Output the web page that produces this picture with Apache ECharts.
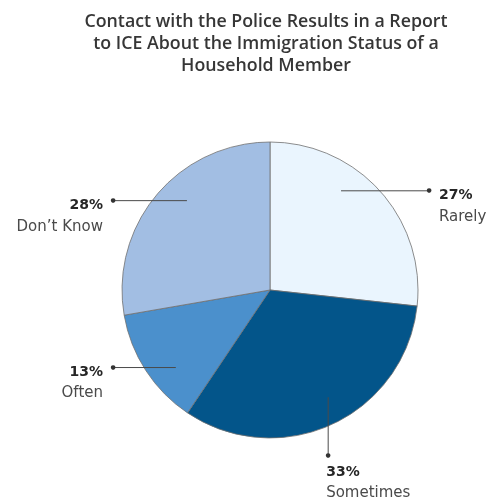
<!DOCTYPE html>
<html>
<head>
<meta charset="utf-8">
<script src="https://cdn.jsdelivr.net/npm/echarts@6/dist/echarts.min.js"></script>
<style>html,body{margin:0;padding:0;background:#fff}#c{width:492px;height:502px}</style>
</head>
<body>
<div id="c"></div>
<script>
const titleLines = ['Contact with the Police Results in a Report', 'to ICE About the Immigration Status of a', 'Household Member'];
const categories = ['Rarely', 'Sometimes', 'Often', "Don\u2019t Know"];
const values = [27, 33, 13, 28];
const colors = ['#EAF5FE', '#03558A', '#4B90CC', '#A2BEE3'];

// label anchor styling: fraction along slice, side of the label
const anchorStyle = [
  {f: 0.37, side: 'right'},
  {f: 0.47, side: 'bottom'},
  {f: 0.36, side: 'left'},
  {f: 0.57, side: 'left'}
];
const CX = 270, CY = 290, R = 148, RIN = 122;
const total = values.reduce((a, b) => a + b, 0);

function geom(i) {
  let cum = 0;
  for (let j = 0; j < i; j++) cum += values[j];
  const s = anchorStyle[i];
  const a = (-90 + (cum + s.f * values[i]) / total * 360) * Math.PI / 180;
  const px = CX + RIN * Math.cos(a);
  const py = CY + RIN * Math.sin(a);
  let dx, dy;
  if (s.side === 'right') { dx = CX + R + 11; dy = py; }
  else if (s.side === 'left') { dx = CX - R - 9; dy = py; }
  else { dx = px; dy = CY + R + 17; }
  return {px, py, dx, dy, side: s.side};
}

const base = {
  type: 'pie',
  center: [CX, CY],
  startAngle: 90,
  clockwise: true,
  avoidLabelOverlap: false,
  silent: true
};

const chart = echarts.init(document.getElementById('c'), null, {renderer: 'canvas'});
chart.setOption({
  backgroundColor: '#ffffff',
  animation: false,
  title: {
    text: titleLines.join('\n'),
    left: 266,
    textAlign: 'center',
    top: 11,
    padding: 0,
    textStyle: {fontFamily: 'Open Sans', fontWeight: 600, fontSize: 17.8, lineHeight: 22, color: '#363636'}
  },
  series: [
    Object.assign({}, base, {
      z: 2,
      radius: R,
      data: categories.map((c, i) => ({name: c, value: values[i], itemStyle: {color: colors[i]}})),
      itemStyle: {borderColor: '#707070', borderWidth: 0.8},
      label: {show: false},
      labelLine: {show: false}
    }),
    Object.assign({}, base, {
      z: 5,
      radius: RIN,
      data: categories.map((c, i) => ({name: c, value: values[i]})),
      itemStyle: {color: 'rgba(0,0,0,0)', borderWidth: 0},
      label: {
        show: true,
        position: 'outside',
        formatter: p => '{b|' + p.value + '%}\n{n|' + p.name + '}',
        rich: {
          b: {fontFamily: 'DejaVu Sans', fontWeight: 'bold', fontSize: 14, lineHeight: 21, color: '#262626'},
          n: {fontFamily: 'DejaVu Sans', fontSize: 15, lineHeight: 21, color: '#4a4a4a'}
        }
      },
      labelLine: {show: true, lineStyle: {color: '#4a4a4a', width: 1}},
      labelLayout: function (params) {
        const g = geom(params.dataIndex);
        if (g.side === 'right') {
          return {x: g.dx + 10, y: g.py - 5.5, align: 'left', verticalAlign: 'top',
            labelLinePoints: [[g.px, g.py], [g.px, g.py], [g.dx, g.dy]]};
        } else if (g.side === 'left') {
          return {x: g.dx - 10, y: g.py - 5.5, align: 'right', verticalAlign: 'top',
            labelLinePoints: [[g.px, g.py], [g.px, g.py], [g.dx, g.dy]]};
        }
        return {x: g.px - 2, y: g.dy + 6.5, align: 'left', verticalAlign: 'top',
          labelLinePoints: [[g.px, g.py], [g.dx, g.dy], [g.dx, g.dy]]};
      }
    }),
    Object.assign({}, base, {
      z: 5,
      radius: R,
      data: categories.map((c, i) => ({name: c, value: values[i]})),
      itemStyle: {color: 'rgba(0,0,0,0)', borderWidth: 0},
      label: {show: true, position: 'outside', formatter: '\u25CF', fontFamily: 'DejaVu Sans', fontSize: 6, color: '#333'},
      labelLine: {show: false},
      labelLayout: function (params) {
        const g = geom(params.dataIndex);
        return {x: g.dx, y: g.dy, align: 'center', verticalAlign: 'middle'};
      }
    })
  ]
});
</script>
</body>
</html>
